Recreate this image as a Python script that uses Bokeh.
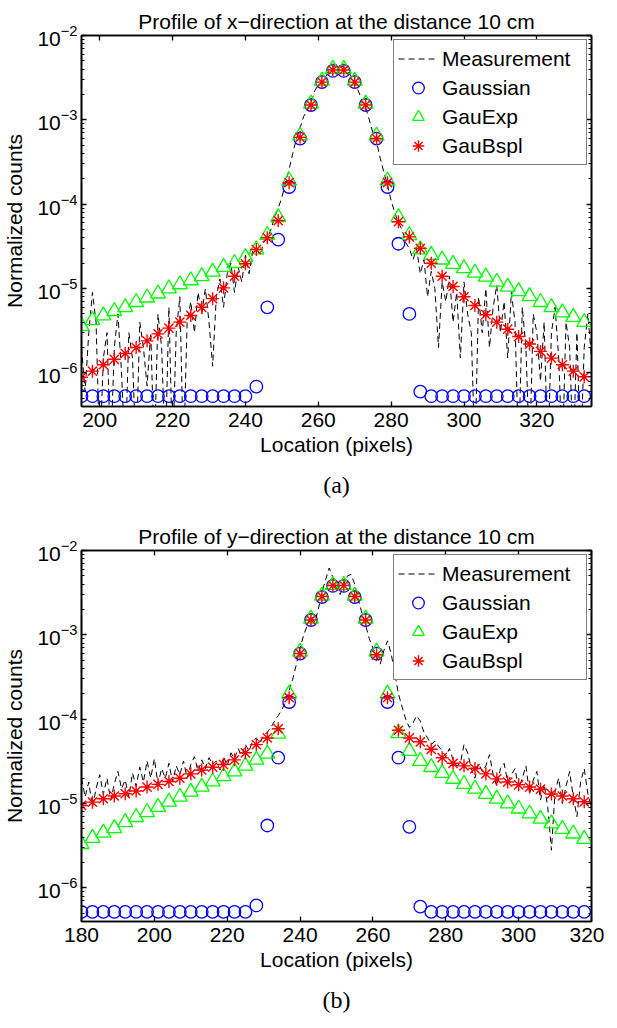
from bokeh.plotting import figure
from bokeh.layouts import column
from bokeh.models import (Range1d, FixedTicker, LinearAxis, LogAxis, LogTicker,
                          Legend, LegendItem, Title, CustomJSTickFormatter)
from bokeh.embed import file_html
from bokeh.resources import INLINE

FONT = "Liberation Sans"

# ---------------- data: panel (a) ----------------
titles = ["Profile of x\u2212direction at the distance 10 cm",
          "Profile of y\u2212direction at the distance 10 cm"]
captions = ["(a)", "(b)"]
x_label = "Location (pixels)"
y_label = "Normalized counts"
series_names = ["Measurement", "Gaussian", "GauExp", "GauBspl"]

a_xticks = [200, 220, 240, 260, 280, 300, 320]
a_fit_x = list(range(195, 334, 3))
a_meas_x = list(range(195, 336))

a_meas = [2e-6, 6e-7, 3e-6, 9e-6, 4e-6, 1e-7, 1.5e-6, 3e-6, 1e-7, 2e-6,
          5e-6, 1e-6, 1e-7, 3e-6, 1.5e-6, 1e-7, 4e-6, 2e-6, 7e-7, 3e-6,
          1e-7, 5e-6, 2e-6, 1e-7, 6e-6, 1e-7, 3e-6, 8e-6, 1e-7, 4e-6,
          7e-6, 3e-6, 9e-6, 5e-6, 1e-5, 4e-6, 1.2e-6, 8e-6, 1.3e-5, 6e-6,
          1.5e-5, 2e-5, 9e-6, 1.8e-5, 1.2e-5, 2.5e-5, 1.5e-5, 2.8e-5, 3e-5, 2.5e-5,
          3.5e-5, 4e-5, 5e-5, 7e-5, 9e-5, 1.2e-4, 1.8e-4, 2.6e-4, 4e-4, 6e-4,
          8e-4, 1.1e-3, 1.3e-3, 1.6e-3, 2.2e-3, 2.6e-3, 2.8e-3, 3.2e-3, 3.8e-3, 4.2e-3,
          4.5e-3, 4.4e-3, 4.2e-3, 3.8e-3, 3.3e-3, 2.8e-3, 2.2e-3, 1.7e-3, 1.4e-3, 1.0e-3,
          7e-4, 5.5e-4, 3.5e-4, 2.4e-4, 1.7e-4, 1.1e-4, 8e-5, 6e-5, 5e-5, 3.5e-5,
          3e-5, 2.2e-5, 3e-5, 1.5e-5, 2.2e-5, 8e-6, 1.6e-5, 1e-5, 2e-6, 1.2e-5,
          7e-6, 1.4e-5, 4e-6, 9e-6, 1.5e-6, 1.2e-5, 5e-6, 3e-6, 1e-7, 8e-6,
          3e-6, 1e-5, 2e-6, 6e-6, 1.1e-5, 3e-6, 7e-6, 1.5e-6, 9e-6, 4e-6,
          1e-7, 6e-6, 2e-6, 1e-7, 5e-6, 3e-6, 8e-7, 4e-6, 1e-7, 3e-6,
          6e-6, 1.5e-6, 1e-7, 4e-6, 2e-6, 1e-7, 3e-6, 1e-7, 2e-6, 5e-6,
          1.5e-6]

a_gauss = [5.3e-7] * 16 + [6.9e-7, 6.0e-6, 3.8e-5, 1.6e-4, 6.0e-4, 1.5e-3, 2.8e-3, 3.8e-3,
                            3.8e-3, 2.8e-3, 1.5e-3, 6.0e-4, 1.6e-4, 3.4e-5, 5.0e-6, 6.0e-7] + [5.3e-7] * 15

a_gauexp = [3.6e-6, 4.2e-6, 4.8e-6, 5.4e-6, 6.0e-6, 6.9e-6, 7.8e-6, 8.7e-6, 1.0e-5, 1.12e-5,
            1.25e-5, 1.4e-5, 1.58e-5, 1.8e-5, 2.0e-5, 2.35e-5, 2.9e-5, 4.3e-5, 7.0e-5, 1.9e-4,
            6.5e-4, 1.55e-3, 2.9e-3, 4.0e-3, 4.0e-3, 2.9e-3, 1.55e-3, 6.5e-4, 1.9e-4, 7.0e-5,
            4.3e-5, 2.9e-5, 2.5e-5, 2.2e-5, 1.95e-5, 1.74e-5, 1.54e-5, 1.38e-5, 1.2e-5, 1.05e-5,
            9.3e-6, 8.1e-6, 6.9e-6, 6.0e-6, 5.2e-6, 4.6e-6, 4.0e-6]

a_gaubspl = [8.9e-7, 1.05e-6, 1.25e-6, 1.45e-6, 1.7e-6, 2.0e-6, 2.4e-6, 2.9e-6, 3.4e-6, 4.0e-6,
             4.8e-6, 6.0e-6, 7.6e-6, 1.02e-5, 1.4e-5, 1.97e-5, 2.9e-5, 4.0e-5, 6.4e-5, 1.8e-4,
             6.2e-4, 1.5e-3, 2.8e-3, 3.9e-3, 3.9e-3, 2.8e-3, 1.5e-3, 6.0e-4, 1.8e-4, 6.2e-5,
             4.1e-5, 3.0e-5, 2.0e-5, 1.4e-5, 1.06e-5, 8.0e-6, 6.3e-6, 4.9e-6, 4.0e-6, 3.3e-6,
             2.7e-6, 2.2e-6, 1.8e-6, 1.5e-6, 1.25e-6, 1.05e-6, 9.0e-7]

# ---------------- data: panel (b) ----------------
b_xticks = [180, 200, 220, 240, 260, 280, 300, 320]
b_fit_x = list(range(180, 319, 3))
b_meas_x = list(range(180, 321))

b_meas = [2.0e-5, 1.2e-5, 1.8e-5, 9e-6, 1.5e-5, 2.2e-5, 1.3e-5, 2.0e-5, 1.1e-5, 1.7e-5,
          2.4e-5, 1.5e-5, 1.9e-5, 1.2e-5, 2.3e-5, 1.6e-5, 2.7e-5, 1.8e-5, 3.2e-5, 2.0e-5,
          3.4e-5, 1.7e-5, 2.6e-5, 2.0e-5, 3.0e-5, 1.8e-5, 2.8e-5, 2.2e-5, 3.2e-5, 2.0e-5,
          2.9e-5, 3.6e-5, 2.4e-5, 3.3e-5, 2.6e-5, 3.5e-5, 2.9e-5, 3.2e-5, 2.5e-5, 3.6e-5,
          2.8e-5, 4.0e-5, 3.4e-5, 4.5e-5, 3.7e-5, 5.0e-5, 4.2e-5, 5.5e-5, 6.0e-5, 5.2e-5,
          6.5e-5, 7.0e-5, 8.0e-5, 9.5e-5, 1.1e-4, 1.3e-4, 1.6e-4, 2.2e-4, 3.0e-4, 4.5e-4,
          7.0e-4, 1.0e-3, 1.3e-3, 1.7e-3, 1.4e-3, 2.0e-3, 3.2e-3, 4.5e-3, 6.2e-3, 4.8e-3,
          3.5e-3, 3.0e-3, 4.0e-3, 5.0e-3, 5.2e-3, 4.0e-3, 2.6e-3, 1.8e-3, 1.3e-3, 9e-4,
          7e-4, 5.5e-4, 4.5e-4, 6.5e-4, 8.5e-4, 6.0e-4, 3.5e-4, 2.0e-4, 1.4e-4, 1.0e-4,
          8.0e-5, 9.0e-5, 1.1e-4, 9.5e-5, 7.0e-5, 6.0e-5, 5.0e-5, 5.5e-5, 4.8e-5, 4.2e-5,
          3.6e-5, 4.5e-5, 3.3e-5, 2.8e-5, 3.0e-5, 5.0e-5, 4.0e-5, 2.6e-5, 2.0e-5, 3.0e-5,
          2.4e-5, 2.8e-5, 3.8e-5, 2.2e-5, 1.6e-5, 2.6e-5, 3.0e-5, 1.8e-5, 2.2e-5, 2.6e-5,
          1.5e-5, 2.0e-5, 2.8e-5, 1.3e-5, 1.9e-5, 2.4e-5, 1.1e-5, 1.7e-5, 9e-6, 2.8e-6,
          1.4e-5, 2.0e-5, 1.0e-5, 1.6e-5, 2.4e-5, 1.2e-5, 7e-6, 1.8e-5, 2.6e-5, 1.3e-5,
          9e-6]

b_gauss = [5.2e-7] * 16 + [6.2e-7, 5.5e-6, 3.5e-5, 1.6e-4, 6.0e-4, 1.5e-3, 2.8e-3, 3.8e-3,
                            3.8e-3, 2.8e-3, 1.5e-3, 6.0e-4, 1.6e-4, 3.5e-5, 5.3e-6, 6.0e-7] + [5.2e-7] * 15

b_gauexp = [3.3e-6, 3.9e-6, 4.5e-6, 5.1e-6, 6.0e-6, 6.9e-6, 7.9e-6, 9.1e-6, 1.05e-5, 1.2e-5,
            1.38e-5, 1.58e-5, 1.82e-5, 2.1e-5, 2.4e-5, 2.8e-5, 3.3e-5, 3.9e-5, 6.7e-5, 2.0e-4,
            6.3e-4, 1.55e-3, 2.9e-3, 3.9e-3, 3.9e-3, 2.9e-3, 1.55e-3, 6.3e-4, 2.0e-4, 6.8e-5,
            4.2e-5, 3.2e-5, 2.7e-5, 2.3e-5, 1.96e-5, 1.7e-5, 1.5e-5, 1.3e-5, 1.14e-5, 1.0e-5,
            8.7e-6, 7.6e-6, 6.6e-6, 5.8e-6, 5.0e-6, 4.4e-6, 3.8e-6]

b_gaubspl = [9.5e-6, 1.04e-5, 1.14e-5, 1.23e-5, 1.31e-5, 1.41e-5, 1.57e-5, 1.69e-5, 1.83e-5, 2.0e-5,
             2.25e-5, 2.5e-5, 2.7e-5, 2.9e-5, 3.3e-5, 4.0e-5, 5.0e-5, 6.0e-5, 7.7e-5, 1.8e-4,
             6.0e-4, 1.5e-3, 2.85e-3, 3.85e-3, 3.85e-3, 2.85e-3, 1.5e-3, 5.8e-4, 1.8e-4, 7.4e-5,
             6.0e-5, 5.4e-5, 4.4e-5, 3.5e-5, 3.0e-5, 2.8e-5, 2.6e-5, 2.25e-5, 1.96e-5, 1.8e-5,
             1.67e-5, 1.57e-5, 1.48e-5, 1.3e-5, 1.23e-5, 1.14e-5, 1.05e-5]

y_lo, y_hi = 4e-7, 1e-2


def make_panel(title, caption, xlo, xhi, xticks, mx, my, fx, g, ge, gb, bottom):
    p = figure(frame_width=510, frame_height=371, y_axis_type="log",
               x_range=Range1d(xlo, xhi), y_range=Range1d(y_lo, y_hi),
               output_backend="svg", toolbar_location=None,
               min_border_left=77, min_border_right=13, min_border_top=35,
               min_border_bottom=bottom, background_fill_color="white",
               border_fill_color="white")
    p.title.text = title
    p.title.align = "center"
    p.title.text_font = FONT
    p.title.text_font_size = "21px"
    p.title.text_font_style = "normal"
    p.title.text_color = "black"
    p.title.standoff = 6
    p.xgrid.visible = False
    p.ygrid.visible = False
    p.outline_line_color = "black"
    p.outline_line_width = 1.6

    xa = p.xaxis[0]
    xa.ticker = FixedTicker(ticks=xticks)
    ya = p.yaxis[0]
    ya.ticker = LogTicker(num_minor_ticks=10)
    for ax in (xa, ya):
        ax.major_tick_in = 5
        ax.major_tick_out = 0
        ax.minor_tick_in = 3
        ax.minor_tick_out = 0
        ax.axis_line_width = 1.6
        ax.major_tick_line_width = 1.3
        ax.major_label_text_font = FONT
        ax.major_label_text_font_size = "21px"
        ax.major_label_text_color = "black"
        ax.axis_label_text_font = FONT
        ax.axis_label_text_font_size = "21px"
        ax.axis_label_text_font_style = "normal"
        ax.axis_label_text_color = "black"
    xa.minor_tick_in = 0
    xa.axis_label = x_label
    xa.major_label_standoff = 6
    xa.axis_label_standoff = 3
    ya.axis_label = y_label
    ya.major_label_standoff = 4
    ya.axis_label_standoff = 8

    empty = CustomJSTickFormatter(code="return ''")
    top = LinearAxis(ticker=FixedTicker(ticks=xticks), formatter=empty,
                     major_tick_in=5, major_tick_out=0, minor_tick_in=0, minor_tick_out=0,
                     major_label_standoff=0, axis_line_width=1.6, major_tick_line_width=1.3)
    right = LogAxis(ticker=LogTicker(num_minor_ticks=10), formatter=empty,
                    major_tick_in=5, major_tick_out=0, minor_tick_in=3, minor_tick_out=0,
                    major_label_standoff=0, axis_line_width=1.6, major_tick_line_width=1.3)
    p.add_layout(top, "above")
    p.add_layout(right, "right")

    r_meas = p.line(mx, my, line_color="black", line_width=1, line_dash="6 4")
    r_g = p.scatter(fx, g, marker="circle", size=12.5, fill_color=None,
                    line_color="#0000FF", line_width=1.3)
    r_ge = p.scatter(fx, ge, marker="triangle", size=15, fill_color=None,
                     line_color="#00FF00", line_width=1.3)
    r_gb = p.scatter(fx, gb, marker="asterisk", size=13,
                     line_color="#FF0000", line_width=1.4)

    legend = Legend(items=[LegendItem(label=series_names[0], renderers=[r_meas]),
                           LegendItem(label=series_names[1], renderers=[r_g]),
                           LegendItem(label=series_names[2], renderers=[r_ge]),
                           LegendItem(label=series_names[3], renderers=[r_gb])],
                    location="top_right", margin=4, padding=4, spacing=0,
                    glyph_width=40, glyph_height=29, label_height=29, label_width=140,
                    label_standoff=4, label_text_font=FONT, label_text_font_size="21px",
                    label_text_color="black", border_line_color="black",
                    border_line_width=1.4, background_fill_color="white",
                    background_fill_alpha=1.0)
    p.add_layout(legend, "center")

    cap = Title(text=caption, align="center", text_font="Liberation Serif",
                text_font_size="24px", text_font_style="normal", text_color="black",
                standoff=22)
    p.add_layout(cap, "below")
    return p


pa = make_panel(titles[0], captions[0], 195, 335, a_xticks, a_meas_x, a_meas,
                a_fit_x, a_gauss, a_gauexp, a_gaubspl, 109)
pb = make_panel(titles[1], captions[1], 180, 320, b_xticks, b_meas_x, b_meas,
                b_fit_x, b_gauss, b_gauexp, b_gaubspl, 91)

layout = column(pa, pb, spacing=0)
open("out.html", "w").write(file_html(layout, INLINE))
